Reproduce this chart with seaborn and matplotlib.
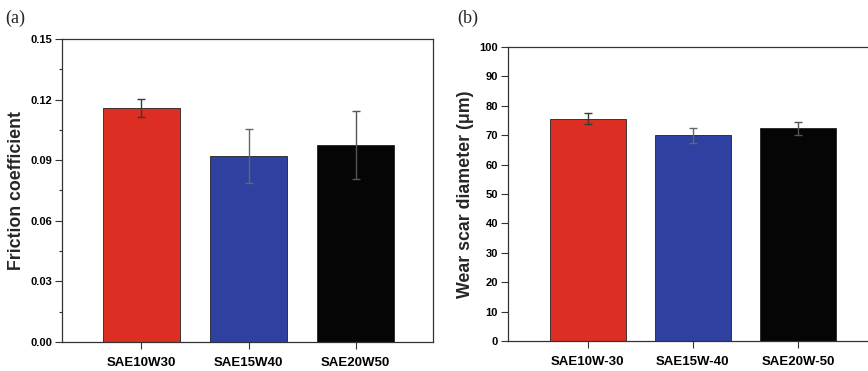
import matplotlib
matplotlib.use("Agg")
import matplotlib.pyplot as plt
import seaborn as sns
import pandas as pd
import numpy as np
from matplotlib.ticker import MultipleLocator

sns.set_theme(style="ticks")
plt.rcParams['font.family'] = ['Liberation Sans', 'DejaVu Sans']

# Panel (a) data
cats_a = ["SAE10W30", "SAE15W40", "SAE20W50"]
friction = [0.116, 0.092, 0.0975]
friction_err = [0.0045, 0.0135, 0.017]

# Panel (b) data
cats_b = ["SAE10W-30", "SAE15W-40", "SAE20W-50"]
wear = [75.6, 69.9, 72.3]
wear_err = [1.8, 2.5, 2.1]

colors = ["#dc2e22", "#2e40a0", "#050505"]
err_colors = ["#3a3a3a", "#666666", "#555555"]

fig = plt.figure(figsize=(8.68, 3.71), dpi=100)
ax_a = fig.add_axes([0.0714, 0.0782, 0.4274, 0.8167])
ax_b = fig.add_axes([0.585, 0.0809, 0.4265, 0.7924])


def draw(ax, cats, vals, errs, ylim, major, minor, ylabel, fmt):
    df = pd.DataFrame({"cat": cats, "val": vals})
    sns.barplot(data=df, x="cat", y="val", hue="cat", palette=colors,
                saturation=1, width=0.72, edgecolor="#222222", linewidth=0.6,
                legend=False, ax=ax, errorbar=None)
    for i, (v, e) in enumerate(zip(vals, errs)):
        ax.errorbar(i, v, yerr=e, fmt="none", ecolor=err_colors[i],
                    elinewidth=1.0, capsize=3, capthick=1.0)
    ax.set_ylim(*ylim)
    ax.set_xlim(-0.74, 2.72)
    ax.yaxis.set_major_locator(MultipleLocator(major))
    if minor:
        ax.yaxis.set_minor_locator(MultipleLocator(minor))
    ax.yaxis.set_major_formatter(matplotlib.ticker.FormatStrFormatter(fmt))
    ax.set_xlabel("")
    ax.set_ylabel(ylabel, fontsize=12.8, fontweight="bold", labelpad=4)
    for s in ax.spines.values():
        s.set_linewidth(0.9)
        s.set_color("#333333")
        s.set_visible(True)
    ax.tick_params(axis="y", which="major", direction="out", length=5,
                   width=0.8, labelsize=8, pad=2, colors="#333333",
                   labelcolor="black")
    ax.tick_params(axis="y", which="minor", direction="out", length=2.5,
                   width=0.8, colors="#333333")
    ax.tick_params(axis="x", direction="out", length=5, width=0.8,
                   labelsize=9.5, pad=6, colors="#333333", labelcolor="black")
    for lab in ax.get_yticklabels() + ax.get_xticklabels():
        lab.set_fontweight("bold")


draw(ax_a, cats_a, friction, friction_err, (0, 0.15), 0.03, 0.015,
     "Friction coefficient", "%.2f")
draw(ax_b, cats_b, wear, wear_err, (0, 100), 10, None,
     "Wear scar diameter (μm)", "%d")
ax_b.set_xlim(-0.76, 2.76)

fig.text(0.006, 0.95, "(a)", fontsize=13, family="Liberation Serif", va="center")
fig.text(0.527, 0.95, "(b)", fontsize=13, family="Liberation Serif", va="center")

fig.savefig("out.png", dpi=100)
